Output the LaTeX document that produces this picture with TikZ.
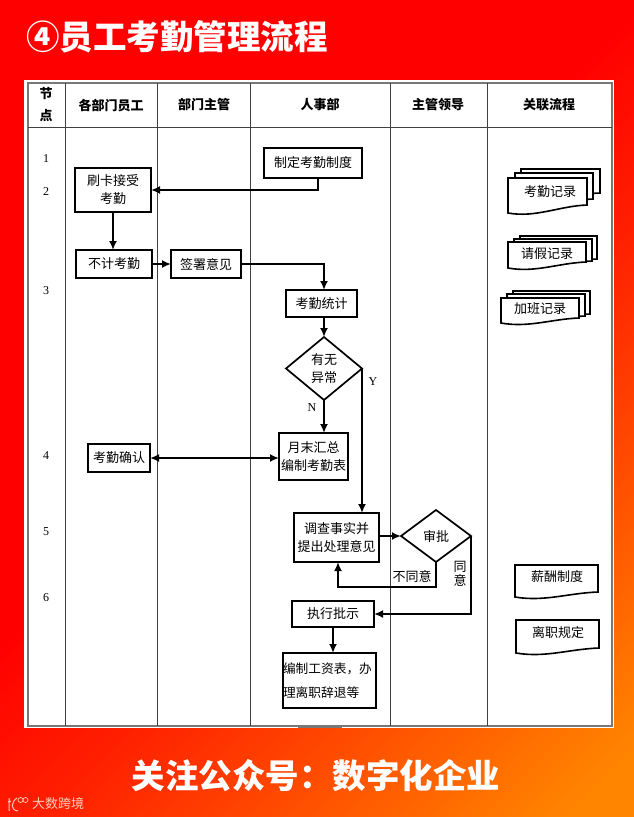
\documentclass[tikz,border=0pt]{standalone}
\usepackage{fontspec}
\usepackage{xcolor}
\setmainfont{Noto Sans CJK SC}
\newfontfamily\numfont{Liberation Serif}
\usetikzlibrary{arrows.meta,positioning,shapes.geometric}
\definecolor{framegray}{RGB}{120,120,120}
\definecolor{markpink}{RGB}{255,205,190}
\pgfdeclarehorizontalshading{bgfade}{100bp}{color(0bp)=(red); color(46bp)=(red); color(57bp)=(red!87!yellow); color(68bp)=(red!70!yellow); color(82bp)=(red!48!yellow); color(100bp)=(red!48!yellow)}
\newcommand{\docshape}[5]{% left, top, right, low left, low right
  \draw[docline] (#1,#2) -- (#3,#2) -- (#3,#5)
    .. controls ({#3-0.35*(#3-#1)},{#5+1}) and ({#1+0.35*(#3-#1)},{#4+5}) .. (#1,#4) -- cycle;
}
\begin{document}
\begin{tikzpicture}[
  x=1pt, y=-1pt,
  box/.style={draw, line width=1.7pt, fill=white, align=center, inner sep=0pt, outer sep=0pt, font=\fontsize{13}{18}\selectfont},
  choice/.style={box, diamond, aspect=1.2},
  arr/.style={-{Latex[length=9pt,width=8pt]}, line width=1.8pt},
  twoway/.style={{Latex[length=9pt,width=8pt]}-{Latex[length=9pt,width=8pt]}, line width=1.8pt},
  docline/.style={draw, line width=1.6pt, fill=white},
  doctext/.style={inner sep=0pt, font=\fontsize{13}{15}\selectfont},
  head/.style={inner sep=0pt, font=\fontsize{13}{15}\selectfont\bfseries},
  num/.style={inner sep=0pt, font=\numfont\fontsize{12}{14}\selectfont},
  note/.style={inner sep=0pt, align=center, font=\fontsize{13}{13.5}\selectfont},
  lane/.style={line width=1pt, draw=black!75}
]
  \useasboundingbox (0,0) rectangle (634,817);
  \shade[shading=bgfade, shading angle=-45] (0,0) rectangle (634,817);

  % sheet and lanes
  \fill[white] (24,80) rectangle (614,728);
  \draw[framegray, line width=1.3pt] (28,83) rectangle (612,726);
  \draw[framegray, line width=2pt] (298,727) -- (342,727);
  \draw[lane] (28,127) -- (612,127);
  \foreach \lanex in {65,157,250.5,390,487}
    \draw[lane] (\lanex,83) -- (\lanex,726);

  \node[head] (jie) at (46,94) {节};
  \node[head] (dian) at (46,116) {点};
  \node[head] (hyuangong) at (111,106) {各部门员工};
  \node[head] (hzhuguan) at (204,105) {部门主管};
  \node[head] (hrenshi) at (320,105) {人事部};
  \node[head] (hlingdao) at (438,105) {主管领导};
  \node[head] (hguanlian) at (549,105) {关联流程};

  \node[num] (n1) at (46,159) {1};
  \node[num] (n2) at (46,192) {2};
  \node[num] (n3) at (46,291) {3};
  \node[num] (n4) at (46,456) {4};
  \node[num] (n5) at (46,532) {5};
  \node[num] (n6) at (46,598) {6};

  \node[box, minimum width=98pt, minimum height=30pt] (zhiding) at (313,163) {制定考勤制度};
  \node[box, minimum width=76pt, minimum height=44pt] (shuaka) at (113,190) {刷卡接受\\考勤};
  \node[box, minimum width=76pt, minimum height=28pt] (buji) at (114,264) {不计考勤};
  \node[box, minimum width=70pt, minimum height=28pt] (qianshu) at (206,264) {签署意见};
  \node[box, minimum width=71pt, minimum height=27pt] (tongji) at (321.5,303.5) {考勤统计};
  \node[choice, minimum width=76pt, minimum height=63pt] (youwu) at (324,368.5) {有无\\异常};
  \node[box, minimum width=69pt, minimum height=47pt] (yuemo) at (313.5,456.5) {月末汇总\\编制考勤表};
  \node[box, minimum width=62pt, minimum height=28pt] (queren) at (119,458) {考勤确认};
  \node[box, minimum width=85pt, minimum height=49pt] (diaocha) at (336.5,537.5) {调查事实并\\提出处理意见};
  \node[choice, minimum width=70pt, minimum height=52pt] (shenpi) at (436,536) {审批};
  \node[box, minimum width=82pt, minimum height=26pt] (zhixing) at (333,614) {执行批示};
  \node[box, minimum width=93pt, minimum height=55pt, text width=93pt, align=left, font=\fontsize{12.7}{24}\selectfont] (bianzhi) at (329.5,680.5) {编制工资表，办\\理离职辞退等};

  % related records
  \docshape{521}{169}{600}{198}{193}
  \docshape{515}{173}{593}{205}{199}
  \docshape{508}{178}{587}{213}{205}
  \node[doctext] (kaoqin) at (550,192) {考勤记录};

  \docshape{520}{236}{597}{262}{259}
  \docshape{514}{239}{592}{265}{261}
  \docshape{508}{242}{586}{268}{262}
  \node[doctext] (qingjia) at (547,254) {请假记录};

  \docshape{513}{291}{590}{317}{314}
  \docshape{507}{294}{585}{320}{316}
  \docshape{501}{298}{579}{323}{318}
  \node[doctext] (jiaban) at (540,309) {加班记录};

  \docshape{515}{565}{598}{597}{592}
  \node[doctext] (xinchou) at (557,577) {薪酬制度};
  \docshape{516}{620}{599}{653}{648}
  \node[doctext] (lizhi) at (558,633) {离职规定};

  \draw[arr] ([xshift=5pt]zhiding.south) |- (shuaka.east);
  \draw[arr] (shuaka.south) -- (shuaka.south |- buji.north);
  \draw[arr] (buji) -- (qianshu);
  \draw[arr] (qianshu.east) -| (youwu.north |- tongji.north);
  \draw[arr] (youwu.north |- tongji.south) -- (youwu.north);
  \draw[arr] (youwu.south) -- (youwu.south |- yuemo.north);
  \draw[arr] (youwu.east) -- (youwu.east |- diaocha.north);
  \draw[twoway] (queren.east) -- (queren.east -| yuemo.west);
  \draw[arr] (diaocha.east |- shenpi.west) -- (shenpi.west);
  \draw[arr] (shenpi.south) -- ++(0,25) -| ([xshift=1.5pt]diaocha.south);
  \draw[arr] (shenpi.east) |- (zhixing.east);
  \draw[arr] (zhixing.south) -- (zhixing.south |- bianzhi.north);

  \node[num] (yes) at (373,382) {Y};
  \node[num] (no) at (312,408) {N};
  \node[note] (butongyi) at (412,577) {不同意};
  \node[note] (tongyi) at (460,574) {同\\意};

  % title and footer
  \node[anchor=west, inner sep=0pt, text=white, font=\fontsize{33.5}{36}\selectfont\bfseries] (title) at (26,37) {④员工考勤管理流程};
  \node[inner sep=0pt, text=white, font=\fontsize{33.5}{36}\selectfont\bfseries] (footer) at (316,776) {关注公众号：数字化企业};
  \node[anchor=west, inner sep=0pt, text=markpink, font=\fontsize{13}{15}\selectfont] (mark) at (32,804) {大数跨境};
  \draw[markpink, line width=1pt] (9,798) -- (9,811) (17,798) .. controls (11,802) and (10,810) .. (18,811) (8,802) -- (11,801);
  \draw[markpink, line width=.7pt] (20.5,800) circle (2.5pt) (25.5,800) circle (2.5pt);
\end{tikzpicture}
\end{document}
